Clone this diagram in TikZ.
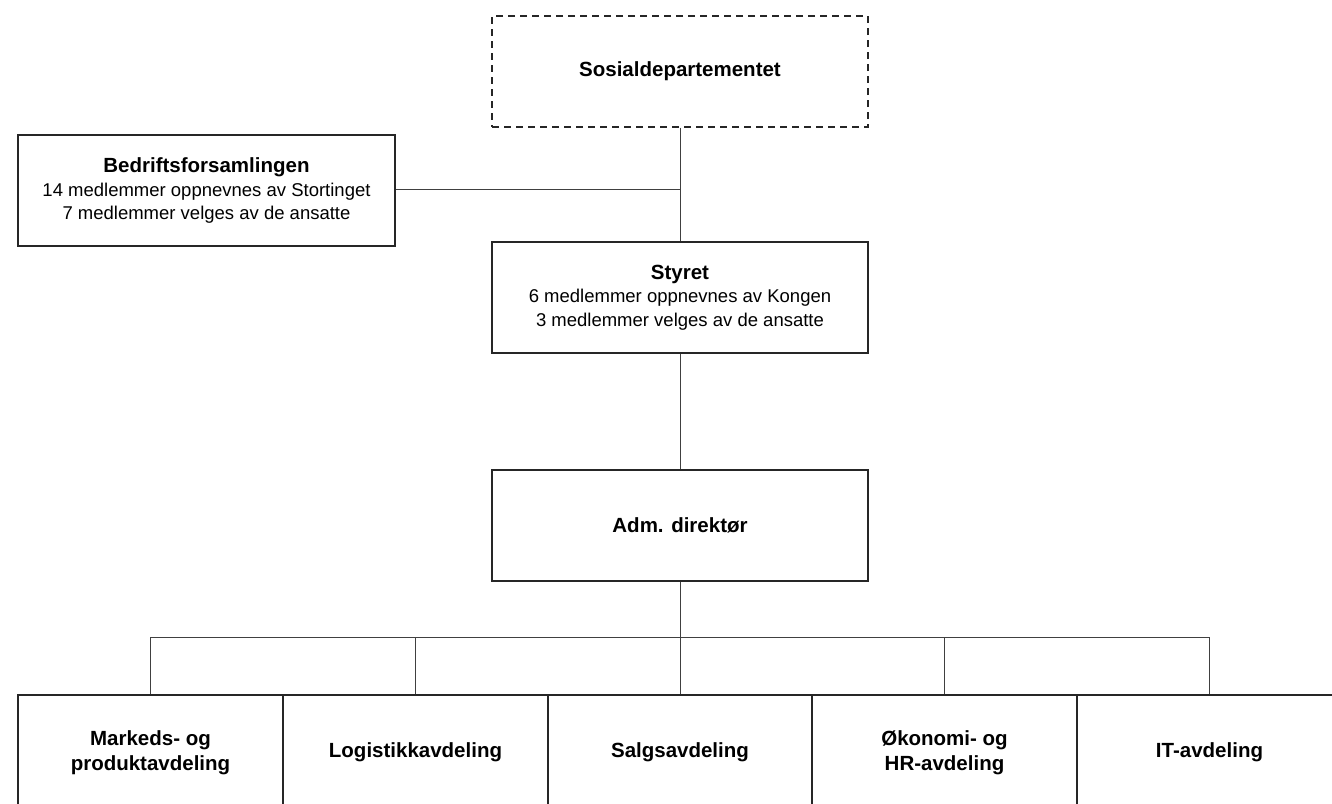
\documentclass[tikz,border=0pt]{standalone}
\usepackage{fontspec}
\setmainfont{Liberation Sans}
\begin{document}
\begin{tikzpicture}[x=1pt,y=-1pt,
  box/.style={draw=black!85,line width=1.2pt,minimum width=376pt,minimum height=111pt,inner sep=0pt,align=center,font=\fontsize{18.5}{23.5}\selectfont},
  hd/.style={font=\fontsize{20.5}{24}\selectfont\bfseries},
  dbox/.style={box,dashed,dash pattern=on 7pt off 5pt},
  unit/.style={draw=black!85,line width=1.2pt,minimum width=265pt,minimum height=115pt,inner sep=0pt,align=center,font=\fontsize{20.5}{25}\selectfont\bfseries},
  conn/.style={draw=black!75,line width=1pt}]
\useasboundingbox (0,0) rectangle (1332,803);
\begin{scope}
\clip (0,0) rectangle (1332,803);
\node[dbox] (dep) at (680,71.5) {\bfseries\fontsize{20.5}{24}\selectfont Sosialdepartementet};
\node[box,minimum width=377pt] (bed) at (206.5,190.5) {{\bfseries\fontsize{20.5}{24}\selectfont Bedriftsforsamlingen}\\14 medlemmer oppnevnes av Stortinget\\7 medlemmer velges av de ansatte};
\node[box] (sty) at (680,297.5) {{\bfseries\fontsize{20.5}{24}\selectfont Styret}\\6 medlemmer oppnevnes av Kongen\\3 medlemmer velges av de ansatte};
\node[box] (adm) at (680,525.5) {\bfseries\fontsize{20.5}{24}\selectfont Adm. direktør};
\node[unit] (u1) at (150.5,752.5) {Markeds- og\\produktavdeling};
\node[unit] (u2) at (415.5,752.5) {Logistikkavdeling};
\node[unit] (u3) at (680,752.5) {Salgsavdeling};
\node[unit] (u4) at (944.5,752.5) {Økonomi- og\\HR-avdeling};
\node[unit] (u5) at (1209.5,752.5) {IT-avdeling};
\coordinate (j) at (680,189);
\coordinate (bus) at (680,637);
\draw[conn] (dep.south) -- (sty.north);
\draw[conn] (bed.east |- j) -- (j);
\draw[conn] (sty.south) -- (adm.north);
\draw[conn] (adm.south) -- (bus);
\draw[conn] (u1.north |- bus) -- (u5.north |- bus);
\foreach \u in {u1,u2,u3,u4,u5} \draw[conn] (\u.north |- bus) -- (\u.north);
\end{scope}
\end{tikzpicture}
\end{document}
